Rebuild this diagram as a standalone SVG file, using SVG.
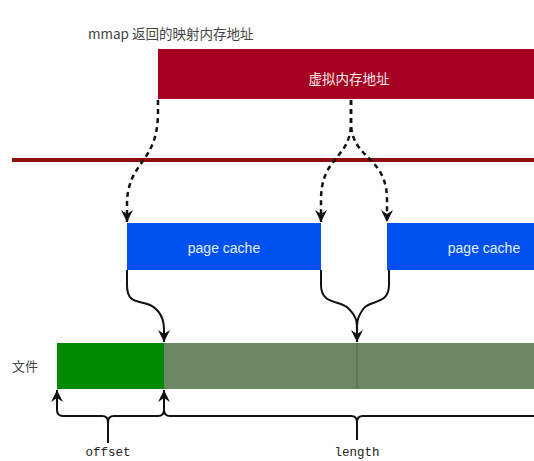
<svg xmlns="http://www.w3.org/2000/svg" width="534" height="461" viewBox="0 0 534 461">
<defs>
<style>
.cjk{font-family:"Noto Sans CJK SC",sans-serif;}
.dash{fill:none;stroke:#111;stroke-width:2.5;stroke-dasharray:5 4;}
.solid{fill:none;stroke:#111;stroke-width:2;}
.mono{font-family:"Liberation Mono",monospace;font-size:12.5px;fill:#222;}
.pc{font-family:"Liberation Sans",sans-serif;font-size:14px;fill:#e0f0ff;}
</style>
<marker id="ad" viewBox="0 0 12 12" refX="12" refY="6" markerWidth="12" markerHeight="12" markerUnits="userSpaceOnUse" orient="auto">
<path d="M0,0 L12,6 L0,12 L4,6 Z" fill="#111"/>
</marker>
</defs>
<rect width="534" height="461" fill="#ffffff"/>

<g id="title">
<text class="cjk" x="88" y="39" font-size="13.5" fill="#444">mmap 返回的映射内存地址</text>
</g>

<g id="vmem">
<rect x="158" y="49" width="376" height="50" fill="#A50021"/>
<text class="cjk" x="349" y="84" font-size="13.5" fill="#fbeef0" text-anchor="middle">虚拟内存地址</text>
</g>

<g id="redline">
<rect x="12" y="158" width="522" height="4" fill="#8E0B0E"/>
</g>

<g id="pagecache1">
<rect x="127" y="223" width="194" height="47" fill="#0050EF"/>
<text class="pc" x="224" y="253" text-anchor="middle">page cache</text>
</g>
<g id="pagecache2">
<rect x="387" y="223" width="147" height="47" fill="#0050EF"/>
<text class="pc" x="484" y="253" text-anchor="middle">page cache</text>
</g>

<g id="file">
<text class="cjk" x="12" y="371" font-size="13" fill="#444">文件</text>
<rect x="57" y="343" width="107" height="46" fill="#008A00"/>
<rect x="164" y="343" width="370" height="46" fill="#6D8764"/>
<line x1="357" y1="343" x2="357" y2="389" stroke="#4f6b47" stroke-width="1"/>
</g>

<g id="connectors">
<path class="dash" d="M158,100 L158,112 C158,165 127,160 127,205 L127,222" marker-end="url(#ad)"/>
<path class="dash" d="M351,100 L351,122 C351,160 321,155 321,200 L321,222" marker-end="url(#ad)"/>
<path class="dash" d="M351,100 L351,122 C351,160 387,155 387,200 L387,222" marker-end="url(#ad)"/>
<path class="solid" d="M127,270 L127,285 C127,305 140,300 150,305 C160,310 164,318 164,330 L164,342" marker-end="url(#ad)"/>
<path class="solid" d="M321,270 L321,285 C321,305 340,300 348,308 C356,316 357,320 357,330 L357,342" marker-end="url(#ad)"/>
<path class="solid" d="M389,270 L389,285 C389,305 370,300 364,308 C358,316 357,320 357,330"/>
<path class="solid" d="M57,410 Q57,416 63,416 L102,416 Q108,416 108,422 L108,443 M108,422 Q108,416 114,416 L158,416 Q164,416 164,410 L164,390" marker-end="url(#ad)"/>
<path class="solid" d="M57,410 L57,390" marker-end="url(#ad)"/>
<path class="solid" d="M164,410 Q164,416 170,416 L351,416 Q357,416 357,422 L357,440 M357,422 Q357,416 363,416 L534,416"/>
</g>

<g id="labels">
<text class="mono" x="108" y="456" text-anchor="middle">offset</text>
<text class="mono" x="357" y="456" text-anchor="middle">length</text>
</g>
</svg>
